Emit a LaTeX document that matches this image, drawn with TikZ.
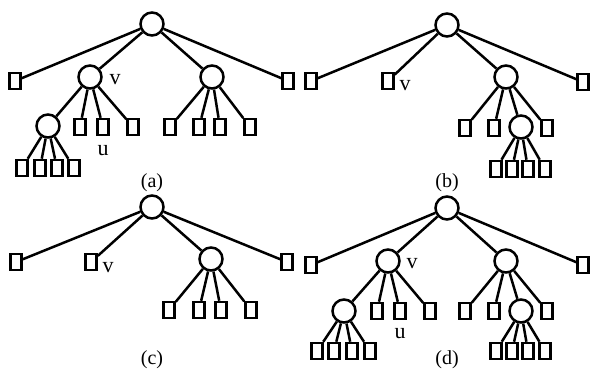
\documentclass[tikz,border=0pt]{standalone}
\usepackage{fontspec}
\setmainfont{Liberation Serif}
\begin{document}
\begin{tikzpicture}[x=1pt,y=-1pt,
  leaf/.style={draw,line width=2.5pt,rectangle,minimum width=11pt,minimum height=16pt,inner sep=0pt},
  inode/.style={draw,line width=2.5pt,circle,minimum size=23pt,inner sep=0pt},
  conn/.style={line width=2.5pt},
  lbl/.style={font=\fontsize{22}{24}\selectfont,inner sep=0pt},
  captxt/.style={font=\fontsize{20}{24}\selectfont,inner sep=0pt}]
\useasboundingbox (0,0) rectangle (592,371);
\fill[white] (0,0) rectangle (592,371);
% ---------- (a)
\node[inode] (aR) at (152,24) {};
\node[leaf] (aL1) at (15,81) {};
\node[inode] (aV) at (90,77) {};
\node[inode] (aW) at (212,77) {};
\node[leaf] (aL4) at (288,81) {};
\node[inode] (aU) at (48,126) {};
\node[leaf] (aV2) at (80,127) {};
\node[leaf] (aV3) at (103,127) {};
\node[leaf] (aV4) at (133,127) {};
\node[leaf] (aW1) at (170,127) {};
\node[leaf] (aW2) at (199,127) {};
\node[leaf] (aW3) at (220,127) {};
\node[leaf] (aW4) at (250,127) {};
\node[leaf] (aU1) at (22,168) {};
\node[leaf] (aU2) at (40,168) {};
\node[leaf] (aU3) at (57,168) {};
\node[leaf] (aU4) at (74,168) {};
\node[lbl] (aVl) at (115,80) {v};
\node[lbl] (aUl) at (103,151) {u};
\node[captxt] (aC) at (152,183) {(a)};
\foreach \c in {aL1,aV,aW,aL4} \draw[conn] (aR) -- (\c);
\foreach \c in {aU,aV2,aV3,aV4} \draw[conn] (aV) -- (\c);
\foreach \c in {aW1,aW2,aW3,aW4} \draw[conn] (aW) -- (\c);
\foreach \c in {aU1,aU2,aU3,aU4} \draw[conn] (aU) -- (\c);
% ---------- (b)
\node[inode] (bR) at (447,25) {};
\node[leaf] (bL1) at (311,81) {};
\node[leaf] (bV) at (388,81) {};
\node[inode] (bW) at (506,77) {};
\node[leaf] (bL4) at (583,82) {};
\node[leaf] (bW1) at (465,128) {};
\node[leaf] (bW2) at (494,128) {};
\node[inode] (bX) at (521,127) {};
\node[leaf] (bW4) at (547,128) {};
\node[leaf] (bX1) at (496,169) {};
\node[leaf] (bX2) at (512,169) {};
\node[leaf] (bX3) at (528,169) {};
\node[leaf] (bX4) at (545,169) {};
\node[lbl] (bVl) at (405,86) {v};
\node[captxt] (bC) at (447,183) {(b)};
\foreach \c in {bL1,bV,bW,bL4} \draw[conn] (bR) -- (\c);
\foreach \c in {bW1,bW2,bX,bW4} \draw[conn] (bW) -- (\c);
\foreach \c in {bX1,bX2,bX3,bX4} \draw[conn] (bX) -- (\c);
% ---------- (c)
\node[inode] (cR) at (152,207) {};
\node[leaf] (cL1) at (16,262) {};
\node[leaf] (cV) at (91,262) {};
\node[inode] (cW) at (211,259) {};
\node[leaf] (cL4) at (287,262) {};
\node[leaf] (cW1) at (169,310) {};
\node[leaf] (cW2) at (199,310) {};
\node[leaf] (cW3) at (221,310) {};
\node[leaf] (cW4) at (251,310) {};
\node[lbl] (cVl) at (108,268) {v};
\node[captxt] (cC) at (152,360) {(c)};
\foreach \c in {cL1,cV,cW,cL4} \draw[conn] (cR) -- (\c);
\foreach \c in {cW1,cW2,cW3,cW4} \draw[conn] (cW) -- (\c);
% ---------- (d)
\node[inode] (dR) at (447,208) {};
\node[leaf] (dL1) at (311,265) {};
\node[inode] (dV) at (388,261) {};
\node[inode] (dW) at (506,261) {};
\node[leaf] (dL4) at (583,265) {};
\node[inode] (dU) at (344,311) {};
\node[leaf] (dV2) at (377,311) {};
\node[leaf] (dV3) at (400,311) {};
\node[leaf] (dV4) at (430,311) {};
\node[leaf] (dW1) at (465,311) {};
\node[leaf] (dW2) at (494,311) {};
\node[inode] (dX) at (521,311) {};
\node[leaf] (dW4) at (547,311) {};
\node[leaf] (dU1) at (317,351) {};
\node[leaf] (dU2) at (334,351) {};
\node[leaf] (dU3) at (352,351) {};
\node[leaf] (dU4) at (370,351) {};
\node[leaf] (dX1) at (496,351) {};
\node[leaf] (dX2) at (512,351) {};
\node[leaf] (dX3) at (528,351) {};
\node[leaf] (dX4) at (545,351) {};
\node[lbl] (dVl) at (412,264) {v};
\node[lbl] (dUl) at (400,334) {u};
\node[captxt] (dC) at (447,360) {(d)};
\foreach \c in {dL1,dV,dW,dL4} \draw[conn] (dR) -- (\c);
\foreach \c in {dU,dV2,dV3,dV4} \draw[conn] (dV) -- (\c);
\foreach \c in {dW1,dW2,dX,dW4} \draw[conn] (dW) -- (\c);
\foreach \c in {dU1,dU2,dU3,dU4} \draw[conn] (dU) -- (\c);
\foreach \c in {dX1,dX2,dX3,dX4} \draw[conn] (dX) -- (\c);
\end{tikzpicture}
\end{document}
